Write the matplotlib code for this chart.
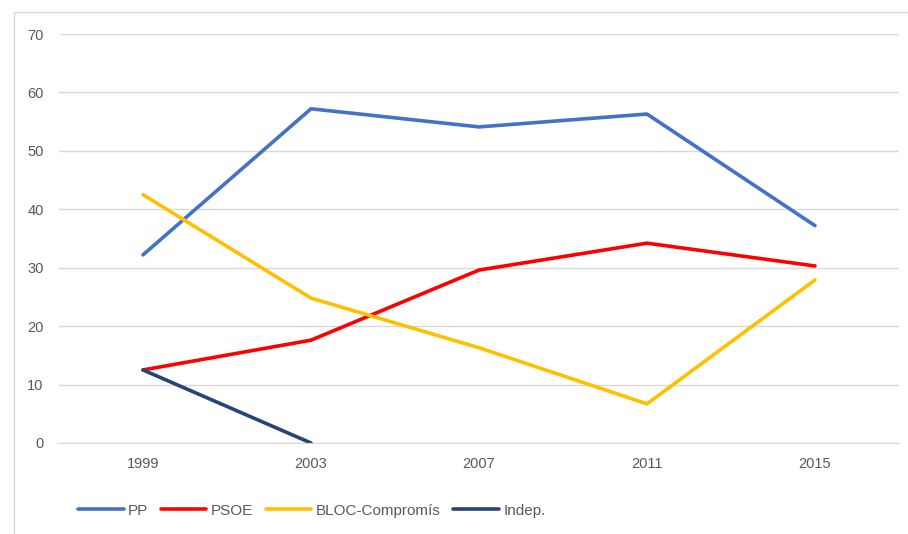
import matplotlib
matplotlib.use('Agg')
import matplotlib.pyplot as plt
from matplotlib.patches import Rectangle

plt.rcParams['font.family'] = ['Liberation Sans Narrow', 'Liberation Sans', 'DejaVu Sans']

# datos
years = ['1999', '2003', '2007', '2011', '2015']
pp = [32.2, 57.2, 54.1, 56.3, 37.2]
psoe = [12.5, 17.6, 29.6, 34.2, 30.3]
bloc = [42.5, 24.8, 16.3, 6.7, 27.9]
indep = [12.5, 0.0]

fig = plt.figure(figsize=(9.08, 5.34), dpi=100)
fig.patches.append(Rectangle((14 / 908, -0.01), 1.0, (534 - 12) / 534 + 0.01,
                             transform=fig.transFigure, fill=False,
                             edgecolor='#d9d9d9', linewidth=1))

ax = fig.add_axes([59 / 908, 91 / 534, 840 / 908, 409 / 534])
x = range(len(years))
lw = 2.6
ax.plot(x, pp, color='#4472C4', lw=lw, label='PP', solid_capstyle='round')
ax.plot(x, psoe, color='#FF0000', lw=lw, label='PSOE', solid_capstyle='round')
ax.plot(x, bloc, color='#FFC000', lw=lw, label='BLOC-Compromís', solid_capstyle='round')
ax.plot(range(len(indep)), indep, color='#264478', lw=lw, label='Indep.', solid_capstyle='round')

ax.set_xlim(-0.5, len(years) - 0.5)
ax.set_ylim(0, 70)
ax.set_yticks(range(0, 71, 10))
ax.set_xticks(list(x))
ax.set_xticklabels(years)
ax.yaxis.grid(True, color='#d9d9d9', linewidth=1)
ax.set_axisbelow(True)
for s in ['top', 'right', 'left']:
    ax.spines[s].set_visible(False)
ax.spines['bottom'].set_color('#d9d9d9')
ax.tick_params(axis='both', length=0, colors='#595959', labelsize=10.5)
ax.tick_params(axis='y', pad=11)
ax.tick_params(axis='x', pad=10)

fig.legend(loc='lower left', bbox_to_anchor=(64 / 908, 0.005), ncol=4, frameon=False,
           fontsize=11, handlelength=3.0, handletextpad=0.3, columnspacing=0.8,
           labelcolor='#595959')

fig.savefig('out.png', dpi=100)
